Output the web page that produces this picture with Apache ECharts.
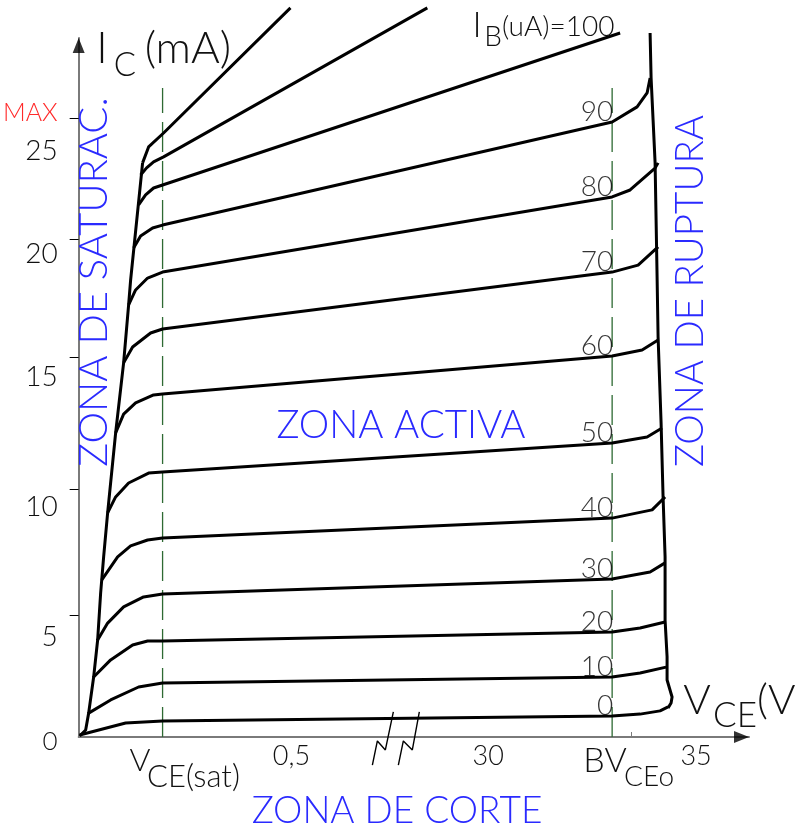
<!DOCTYPE html>
<html>
<head>
<meta charset="utf-8">
<script src="https://cdn.jsdelivr.net/npm/echarts@6/dist/echarts.min.js"></script>
<style>
  html, body { margin: 0; padding: 0; background: #fff; }
  #chart { width: 795px; height: 828px; }
</style>
</head>
<body>
<div id="chart"></div>
<script>
// Output characteristics of a BJT (common emitter).
// The V_CE axis is broken (0..0,5 V stretched, then 30..35 V), so the horizontal
// coordinate is a drawing scale along the axis (0 at the origin, 671 at the arrow tip).
// The vertical coordinate is I_C in mA.

const X_MAX = 671;
const Y_MAX = 28.1;

// Saturation edge: the steep line that all curves leave from
const satEdge = [[1,0.04],[7,0.28],[10,0.96],[15,2.41],[19,3.90],[22,5.79],[25,7.24],[29,9.01],
  [34,11.02],[37,12.22],[45,15.04],[50,17.37],[52,18.37],[64,23.08]];

// One curve per base current I_B (uA)
const ib0   = [[1,0.08],[47,0.56],[84,0.64],[534,0.84],[562,0.92],[582,1.05],[590,1.21]];
const ib10  = [[10,0.96],[32,1.49],[60,2.01],[84,2.17],[534,2.41],[562,2.57],[588,2.81]];
const ib20  = [[15,2.41],[32,3.10],[54,3.70],[69,3.86],[84,3.86],[534,4.22],[562,4.38],[587,4.62]];
const ib30  = [[19,3.90],[29,4.58],[45,5.23],[65,5.63],[84,5.75],[534,6.35],[572,6.63],[587,7.00]];
const ib40  = [[23,6.31],[39,7.24],[52,7.68],[69,7.92],[84,8.00],[534,8.80],[574,9.13],[587,9.65]];
const ib50  = [[29,9.01],[37,9.65],[50,10.21],[70,10.61],[84,10.65],[534,11.82],[569,12.06],[584,12.42]];
const ib60  = [[37,12.22],[45,12.98],[57,13.43],[75,13.75],[84,13.79],[534,15.32],[564,15.56],[580,15.96]];
const ib70  = [[45,15.04],[54,15.68],[72,16.24],[84,16.40],[534,18.69],[560,18.97],[580,19.70]];
const ib80  = [[50,17.37],[57,17.97],[69,18.45],[84,18.69],[534,21.71],[552,21.99],[577,22.87],[580,23.08]];
const ib90  = [[55,19.66],[62,20.14],[74,20.46],[84,20.58],[534,24.72],[559,25.33],[569,25.89],[572,26.49]];
const ib100 = [[60,21.39],[67,21.79],[75,22.07],[84,22.19],[542,28.30]];
// two higher, unlabelled base currents leaving the top of the plot
const ibUpperA = [[62,22.59],[68,22.88],[75,23.12],[85,23.32],[349,29.31]];
const ibUpperB = [[64,23.08],[70,23.72],[85,24.28],[212,29.31]];

// Breakdown edge (BV_CEo region)
const breakdownEdge = [[572,28.30],[573,26.49],[575,24.80],[577,23.08],[578,20.78],[579,18.49],
  [580,16.08],[583,12.62],[585,9.65],[587,7.24],[587,4.70],[589,3.22],[589,2.29],[594,1.61],
  [593,1.37],[590,1.17]];

// Reference verticals: V_CE(sat) and BV_CEo
const vceSatX = 84;
const bvceoX = 534;
const refTop = 26.09;

// Axis ticks and labels
const yTickValues  = [4.9, 9.97, 15.28, 20.02, 24.88];
const yLabelValues = [0, 4.02, 9.25, 14.47, 19.42, 23.56, 25.09];
const yLabelTexts  = ['0', '5', '10', '15', '20', '25', 'MAX'];
const xTickValues  = [553];
const xLabelValues = [213, 410, 618];
const xLabelTexts  = ['0,5', '30', '35'];

// Axis break mark ("//") on the V_CE axis
const breakMarkA = [[294,-1.13],[299,-0.16],[307,-0.52],[315,1.01]];
const breakMarkB = [[320,-1.13],[325,-0.16],[334,-0.52],[341,1.01]];

const labelledCurves = [
  { ib: '0', data: ib0 }, { ib: '10', data: ib10 }, { ib: '20', data: ib20 },
  { ib: '30', data: ib30 }, { ib: '40', data: ib40 }, { ib: '50', data: ib50 },
  { ib: '60', data: ib60 }, { ib: '70', data: ib70 }, { ib: '80', data: ib80 },
  { ib: '90', data: ib90 }
];

const INK = '#111';
const BLUE = '#2a2aff';
const THIN = 'Lato';

function curveSeries(name, data) {
  return {
    name, type: 'line', data, symbol: 'none', clip: false, z: 3,
    lineStyle: { color: '#000', width: 3, join: 'round' }
  };
}

const series = [];
series.push({
  name: 'refLines', type: 'line', symbol: 'none', clip: false, z: 1,
  data: [[vceSatX, 0], [vceSatX, refTop], null, [bvceoX, 0], [bvceoX, refTop]],
  connectNulls: false,
  lineStyle: { color: '#2e6a33', width: 1.3, type: [30, 9] }
});
series.push(curveSeries('satEdge', satEdge));
labelledCurves.forEach(c => series.push(curveSeries('IB ' + c.ib, c.data)));
series.push(curveSeries('IB 100', ib100));
series.push(curveSeries('upperA', ibUpperA));
series.push(curveSeries('upperB', ibUpperB));
series.push(curveSeries('breakdown', breakdownEdge));

// I_B value written just above each curve where it meets BV_CEo
series.push({
  name: 'ibLabels', type: 'scatter', symbolSize: 0, clip: false, z: 4,
  data: labelledCurves.map(c => {
    const p = c.data.find(q => q[0] === bvceoX);
    return [p[0], p[1], c.ib];
  }),
  label: {
    show: true, position: [0, 0], align: 'right', verticalAlign: 'bottom', offset: [1, 4],
    formatter: p => p.value[2],
    fontFamily: THIN, fontWeight: 300, fontSize: 28, color: '#000'
  }
});

// Axis break mark
[breakMarkA, breakMarkB].forEach((m, i) => series.push({
  name: 'break' + i, type: 'line', data: m, symbol: 'none', clip: false, z: 5,
  lineStyle: { color: '#000', width: 1.4 }
}));

// Axis arrow heads
series.push({
  name: 'arrows', type: 'scatter', clip: false, z: 6,
  data: [
    { value: [0, Y_MAX], symbol: 'triangle', symbolSize: [12, 15], symbolOffset: [0, 7.5] },
    { value: [X_MAX, 0], symbol: 'path://M0,0L15,6L0,12Z', symbolSize: [15, 12], symbolOffset: [-7.5, 0] }
  ],
  itemStyle: { color: '#000' }
});

function txt(text, x, y, size, opts = {}) {
  return {
    type: 'text', x, y, rotation: opts.rotation || 0, z: 10,
    style: {
      text, fill: opts.fill || INK,
      font: (opts.weight || 300) + ' ' + size + 'px ' + (opts.family || THIN),
      textAlign: opts.align || 'center', textVerticalAlign: 'middle'
    }
  };
}

const zone = { fill: BLUE, weight: 300 };

const graphics = [
  // I_C (mA)
  txt('I', 102, 49, 44), txt('C', 125, 65, 33), txt('(mA)', 188, 49, 44),
  // I_B (uA) = 100
  txt('I', 477, 26, 35), txt('B', 493, 37, 28),
  txt('(uA)=100', 502, 27, 28, { align: 'left' }),
  // V_CE(sat)
  txt('V', 140, 761, 32), txt('CE(sat)', 147, 777, 31, { align: 'left' }),
  // BV_CEo
  txt('BV', 605, 761, 34), txt('CEo', 649, 777, 28),
  // V_CE (V)
  txt('V', 697, 700, 42), txt('CE', 735, 716, 35), txt('(V)', 757, 700, 42, { align: 'left' }),
  // operating regions
  txt('ZONA DE SATURAC.', 94, 282, 40, Object.assign({ rotation: Math.PI / 2 }, zone)),
  txt('ZONA DE RUPTURA', 691, 291, 38.5, Object.assign({ rotation: Math.PI / 2 }, zone)),
  txt('ZONA ACTIVA', 401, 426, 38.5, zone),
  txt('ZONA DE CORTE', 397, 811, 37, zone)
];

const chart = echarts.init(document.getElementById('chart'), null, { renderer: 'canvas' });
chart.setOption({
  animation: false,
  backgroundColor: '#fff',
  grid: { left: 78, right: 46, top: 38, bottom: 91, containLabel: false },
  xAxis: {
    type: 'value', min: 0, max: X_MAX,
    splitLine: { show: false },
    axisLine: { show: true, lineStyle: { color: '#7a7a7a', width: 2 } },
    axisTick: { show: true, customValues: xTickValues, inside: true, length: 5, lineStyle: { color: '#7a7a7a', width: 1 } },
    axisLabel: {
      show: true, customValues: xLabelValues, margin: 6,
      formatter: v => xLabelTexts[xLabelValues.indexOf(v)],
      fontFamily: THIN, fontWeight: 300, fontSize: 27, color: INK
    }
  },
  yAxis: {
    type: 'value', min: 0, max: Y_MAX,
    splitLine: { show: false },
    axisLine: { show: true, lineStyle: { color: '#7a7a7a', width: 2 } },
    axisTick: { show: true, customValues: yTickValues, length: 9, lineStyle: { color: '#000', width: 1 } },
    axisLabel: {
      show: true, customValues: yLabelValues, margin: 21,
      formatter: v => {
        const t = yLabelTexts[yLabelValues.indexOf(v)];
        if (t === 'MAX') return '{max|MAX}';
        if (t === '0') return '{zero|0}';
        return '{num|' + t + '}';
      },
      rich: {
        num: { fontFamily: THIN, fontWeight: 300, fontSize: 28, color: INK },
        zero: { fontFamily: THIN, fontWeight: 300, fontSize: 26, color: INK, padding: [10, 0, 0, 0] },
        max: { fontFamily: THIN, fontWeight: 300, fontSize: 25, color: '#ff2a2a' }
      }
    }
  },
  series,
  graphic: graphics
});
</script>
</body>
</html>
